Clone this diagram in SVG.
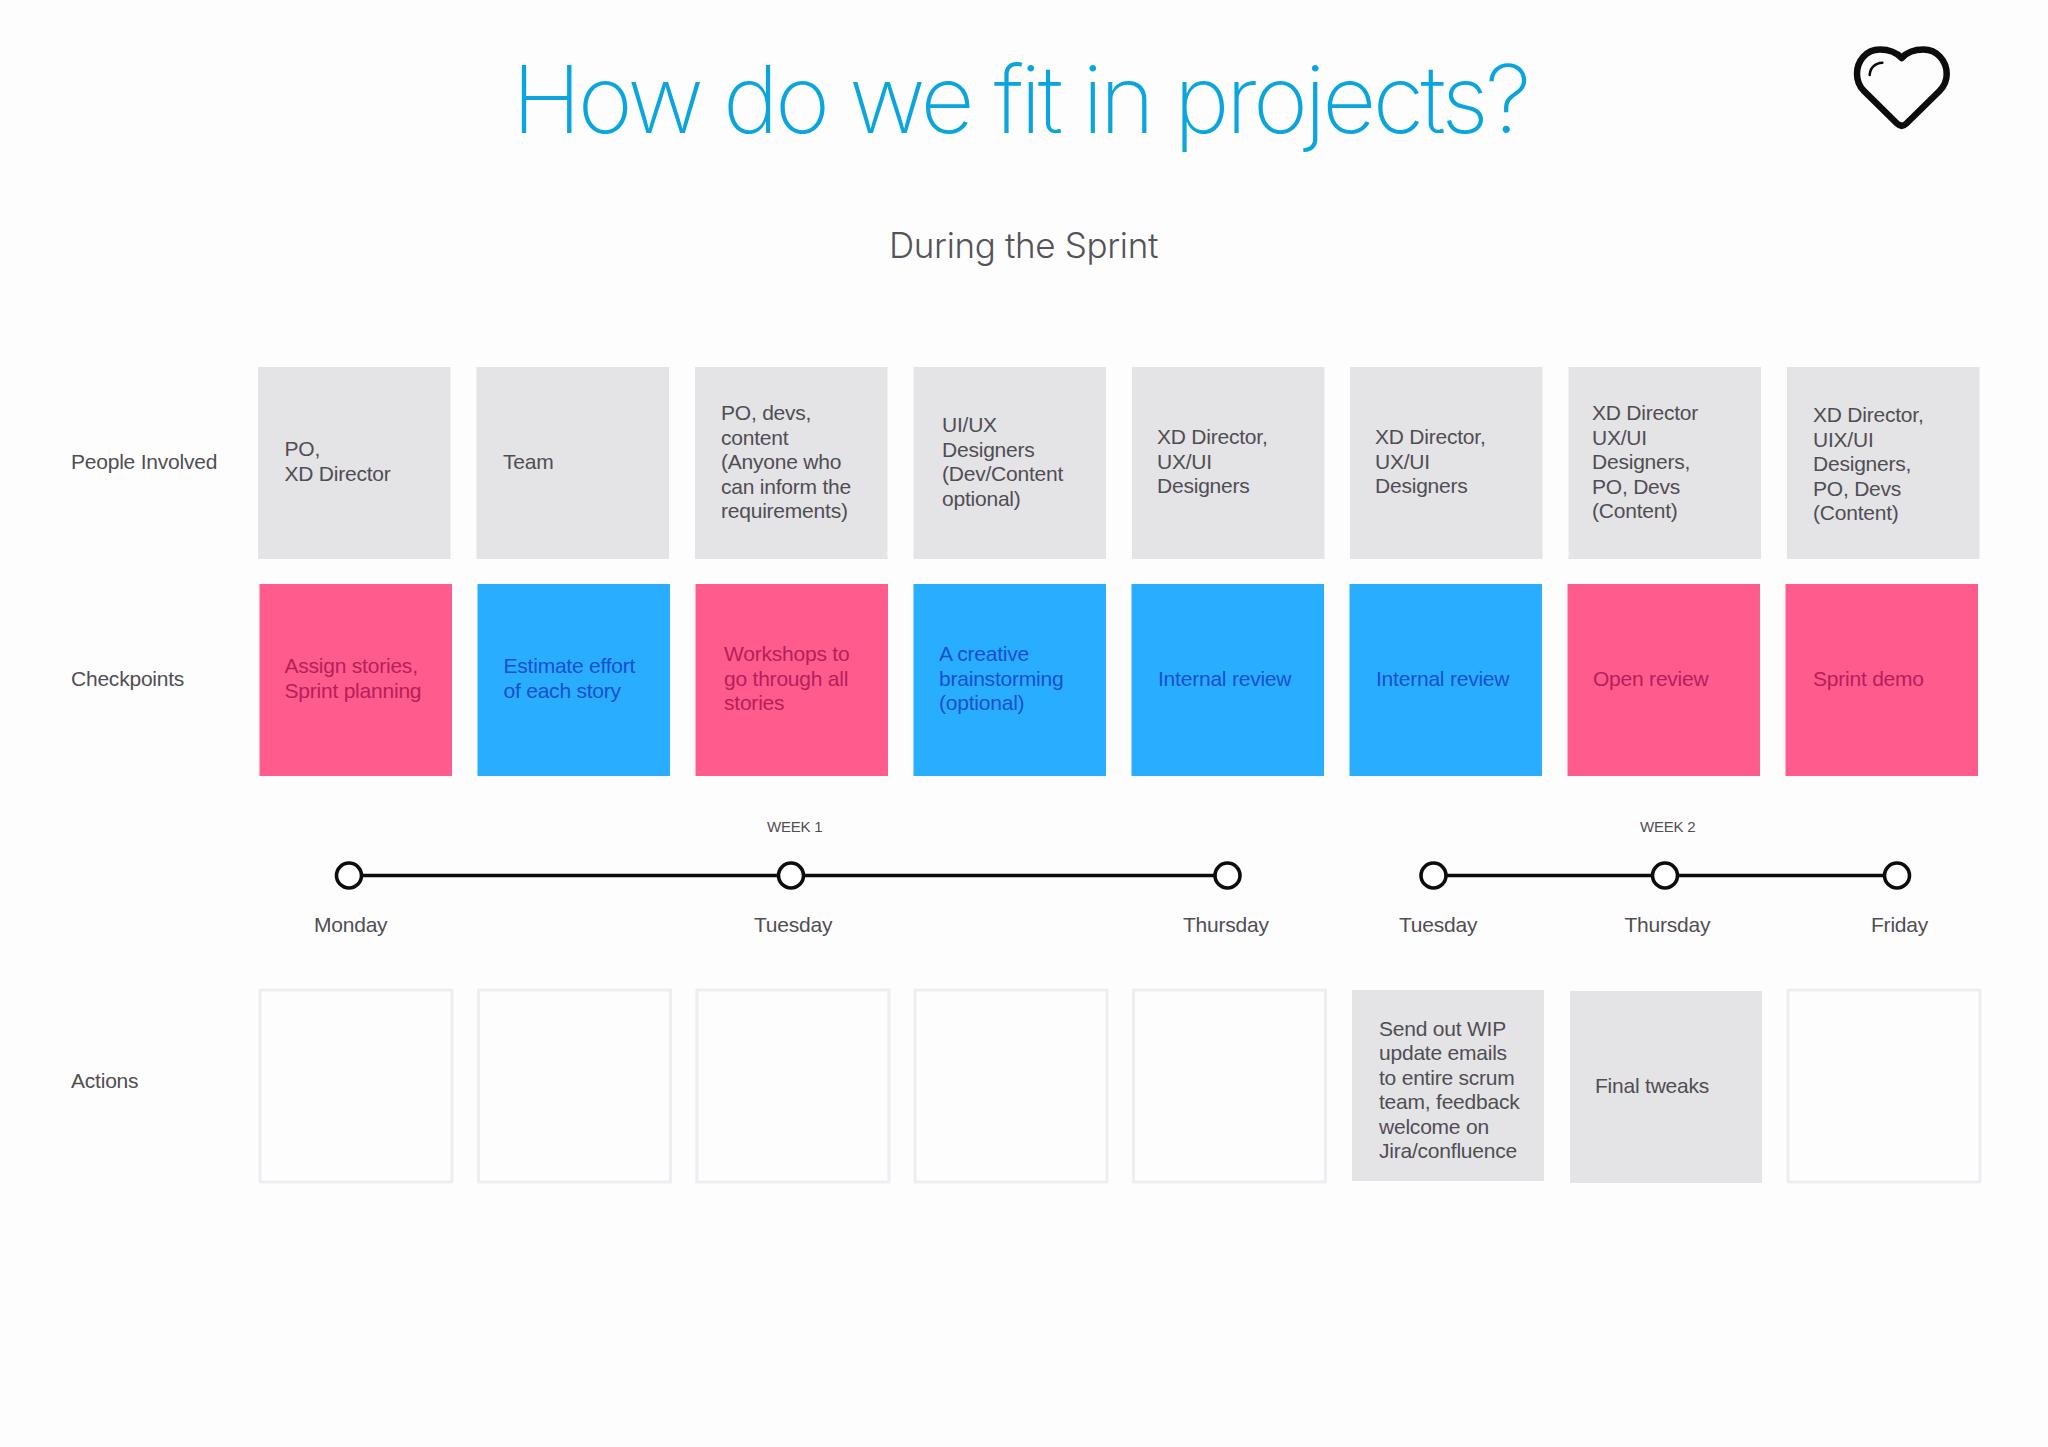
<svg xmlns="http://www.w3.org/2000/svg" width="2048" height="1447" viewBox="0 0 2048 1447">
<style>
text{font-family:"Liberation Sans",Arial,sans-serif;font-size:21px;letter-spacing:-.22px;fill:#504e53}
.title{font-family:Inter,"Liberation Sans",sans-serif;font-weight:200;font-size:94px;letter-spacing:-3.6px;fill:#0aa5dc}
.sub{font-family:Inter,"Liberation Sans",sans-serif;font-weight:300;font-size:35px;letter-spacing:-.35px;fill:#55535a}
.wk{font-size:15px}
.g{fill:#e4e3e6}.p{fill:#ff5c8d}.b{fill:#29aeff}
.e{fill:#fefdfe;stroke:#efedf1;stroke-width:3}
.tp{fill:#b5205a}.tb{fill:#1650cf}
.dot{fill:#fff;stroke:#0c0c0c;stroke-width:3.6}
.ln{stroke:#0c0c0c;stroke-width:3.4;fill:none}
</style>
<rect width="2048" height="1447" fill="#fefdfe"/>
<text class="title" x="512" y="132.500">How do we fit in projects?</text>
<text class="sub" x="889" y="258">During the Sprint</text>
<g id="heart" fill="none" stroke="#0c0c0c" stroke-linecap="round">
<path stroke-width="6.5" stroke-linejoin="round" d="M1901.7 58C1895 51 1887 49.5 1880 49.5C1866 49.5 1857 61 1857 74C1857 81 1860 87 1864 91L1897 123.5Q1901.7 128 1906.4 123.5L1939.5 91C1943.5 87 1946.7 81 1946.7 74C1946.7 61 1937 49.5 1923.5 49.5C1916 49.5 1908 51 1901.7 58Z"/>
<path stroke-width="2.6" d="M1869.7 75C1870 68 1875 63 1882.3 62.7"/>
</g>
<g id="row-labels">
<text x="71" y="469">People Involved</text>
<text x="71" y="685.500">Checkpoints</text>
<text x="71" y="1087.500">Actions</text>
</g>
<g id="people">
<g id="people-1"><rect class="g" x="258" y="367" width="192.500" height="192"/><text x="284.500" y="456">PO,</text><text x="284.500" y="480.500">XD Director</text></g>
<g id="people-2"><rect class="g" x="476.500" y="367" width="192.500" height="192"/><text x="503" y="468.500">Team</text></g>
<g id="people-3"><rect class="g" x="695" y="367" width="192.500" height="192"/><text x="721" y="420">PO, devs,</text><text x="721" y="444.500">content</text><text x="721" y="469">(Anyone who</text><text x="721" y="493.500">can inform the</text><text x="721" y="518">requirements)</text></g>
<g id="people-4"><rect class="g" x="913.500" y="367" width="192.500" height="192"/><text x="942" y="432">UI/UX</text><text x="942" y="456.500">Designers</text><text x="942" y="481">(Dev/Content</text><text x="942" y="505.500">optional)</text></g>
<g id="people-5"><rect class="g" x="1132" y="367" width="192.500" height="192"/><text x="1157" y="444">XD Director,</text><text x="1157" y="468.500">UX/UI</text><text x="1157" y="493">Designers</text></g>
<g id="people-6"><rect class="g" x="1350" y="367" width="192.500" height="192"/><text x="1375" y="444">XD Director,</text><text x="1375" y="468.500">UX/UI</text><text x="1375" y="493">Designers</text></g>
<g id="people-7"><rect class="g" x="1568.500" y="367" width="192.500" height="192"/><text x="1592" y="420">XD Director</text><text x="1592" y="444.500">UX/UI</text><text x="1592" y="469">Designers,</text><text x="1592" y="493.500">PO, Devs</text><text x="1592" y="518">(Content)</text></g>
<g id="people-8"><rect class="g" x="1787" y="367" width="192.500" height="192"/><text x="1813" y="422">XD Director,</text><text x="1813" y="446.500">UIX/UI</text><text x="1813" y="471">Designers,</text><text x="1813" y="495.500">PO, Devs</text><text x="1813" y="520">(Content)</text></g>
</g>
<g id="checkpoints">
<g id="check-1"><rect class="p" x="259.500" y="584" width="192.500" height="192"/><text class="tp" x="284.500" y="673">Assign stories,</text><text class="tp" x="284.500" y="697.500">Sprint planning</text></g>
<g id="check-2"><rect class="b" x="477.500" y="584" width="192.500" height="192"/><text class="tb" x="503.500" y="673">Estimate effort</text><text class="tb" x="503.500" y="697.500">of each story</text></g>
<g id="check-3"><rect class="p" x="695.500" y="584" width="192.500" height="192"/><text class="tp" x="724" y="661">Workshops to</text><text class="tp" x="724" y="685.500">go through all</text><text class="tp" x="724" y="710">stories</text></g>
<g id="check-4"><rect class="b" x="913.500" y="584" width="192.500" height="192"/><text class="tb" x="939" y="661">A creative</text><text class="tb" x="939" y="685.500">brainstorming</text><text class="tb" x="939" y="710">(optional)</text></g>
<g id="check-5"><rect class="b" x="1131.500" y="584" width="192.500" height="192"/><text class="tb" x="1158" y="685.500">Internal review</text></g>
<g id="check-6"><rect class="b" x="1349.500" y="584" width="192.500" height="192"/><text class="tb" x="1376" y="685.500">Internal review</text></g>
<g id="check-7"><rect class="p" x="1567.500" y="584" width="192.500" height="192"/><text class="tp" x="1593" y="685.500">Open review</text></g>
<g id="check-8"><rect class="p" x="1785.500" y="584" width="192.500" height="192"/><text class="tp" x="1813" y="685.500">Sprint demo</text></g>
</g>
<g id="connectors">
<path class="ln" d="M349 875.500H1227.500"/>
<path class="ln" d="M1433.500 875.500H1897"/>
</g>
<g id="timeline">
<text class="wk" x="767" y="832">WEEK 1</text>
<text class="wk" x="1640" y="832">WEEK 2</text>
<g id="t1"><circle class="dot" cx="349" cy="875.500" r="12.500"/><text x="314" y="932">Monday</text></g>
<g id="t2"><circle class="dot" cx="791" cy="875.500" r="12.500"/><text x="754" y="932">Tuesday</text></g>
<g id="t3"><circle class="dot" cx="1227.500" cy="875.500" r="12.500"/><text x="1183" y="932">Thursday</text></g>
<g id="t4"><circle class="dot" cx="1433.500" cy="875.500" r="12.500"/><text x="1399" y="932">Tuesday</text></g>
<g id="t5"><circle class="dot" cx="1665" cy="875.500" r="12.500"/><text x="1624.500" y="932">Thursday</text></g>
<g id="t6"><circle class="dot" cx="1897" cy="875.500" r="12.500"/><text x="1871" y="932">Friday</text></g>
</g>
<g id="actions">
<g id="action-1"><rect class="e" x="260" y="990" width="192" height="192"/></g>
<g id="action-2"><rect class="e" x="478.500" y="990" width="192" height="192"/></g>
<g id="action-3"><rect class="e" x="697" y="990" width="192" height="192"/></g>
<g id="action-4"><rect class="e" x="915" y="990" width="192" height="192"/></g>
<g id="action-5"><rect class="e" x="1133.500" y="990" width="192" height="192"/></g>
<g id="action-6"><rect class="g" x="1352" y="990" width="192" height="191"/><text x="1379" y="1035.500">Send out WIP</text><text x="1379" y="1060">update emails</text><text x="1379" y="1084.500">to entire scrum</text><text x="1379" y="1109">team, feedback</text><text x="1379" y="1133.500">welcome on</text><text x="1379" y="1158">Jira/confluence</text></g>
<g id="action-7"><rect class="g" x="1570" y="991" width="192" height="192"/><text x="1595" y="1092.500">Final tweaks</text></g>
<g id="action-8"><rect class="e" x="1788" y="990" width="192" height="192"/></g>
</g>
</svg>
